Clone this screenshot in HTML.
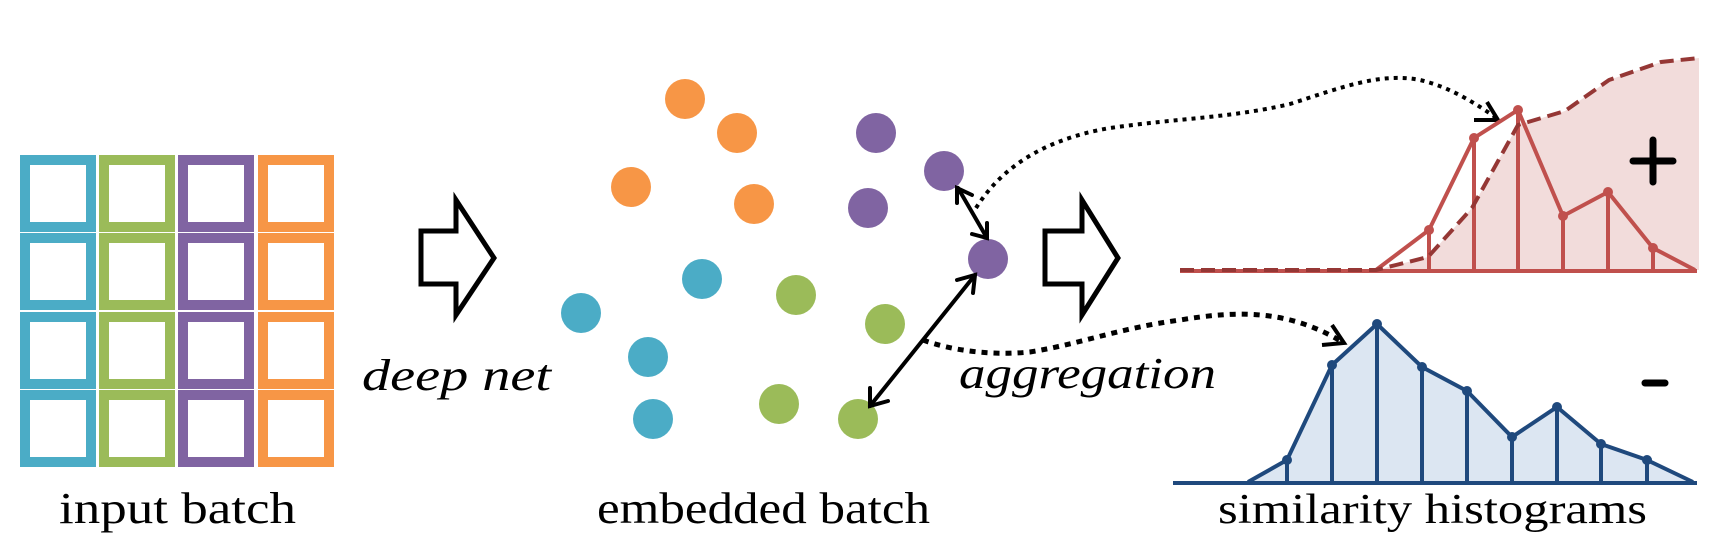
<!DOCTYPE html>
<html><head><meta charset="utf-8"><style>
html,body{margin:0;padding:0;background:#fff;}
svg{display:block;}
text{font-family:"Liberation Serif",serif;fill:#000;}
</style></head><body>
<svg width="1728" height="542" viewBox="0 0 1728 542" xmlns="http://www.w3.org/2000/svg">
<!-- grid -->
<g fill="none" stroke-width="10">
<g stroke="#4bacc6"><rect x="25" y="160" width="66" height="67"/><rect x="25" y="238" width="66" height="67"/><rect x="25" y="317" width="66" height="67"/><rect x="25" y="395" width="66" height="67"/></g>
<g stroke="#9bbb59"><rect x="104" y="160" width="66" height="67"/><rect x="104" y="238" width="66" height="67"/><rect x="104" y="317" width="66" height="67"/><rect x="104" y="395" width="66" height="67"/></g>
<g stroke="#8064a2"><rect x="183" y="160" width="66" height="67"/><rect x="183" y="238" width="66" height="67"/><rect x="183" y="317" width="66" height="67"/><rect x="183" y="395" width="66" height="67"/></g>
<g stroke="#f79646"><rect x="263" y="160" width="66" height="67"/><rect x="263" y="238" width="66" height="67"/><rect x="263" y="317" width="66" height="67"/><rect x="263" y="395" width="66" height="67"/></g>
</g>
<text x="59" y="523" font-size="44" textLength="237" lengthAdjust="spacingAndGlyphs">input batch</text>
<!-- block arrows -->
<polygon points="421,231 456,231 456,200 494,258 456,315 456,284 421,284" fill="#fff" stroke="#000" stroke-width="5"/>
<polygon points="1045,231 1082,231 1082,200 1118,258 1082,315 1082,284 1045,284" fill="#fff" stroke="#000" stroke-width="5"/>
<text x="362" y="390" font-size="44" font-style="italic" textLength="189" lengthAdjust="spacingAndGlyphs">deep net</text>
<!-- circles -->
<g>
<circle cx="685" cy="99" r="20" fill="#f79646"/><circle cx="737" cy="133" r="20" fill="#f79646"/><circle cx="631" cy="187" r="20" fill="#f79646"/><circle cx="754" cy="204" r="20" fill="#f79646"/>
<circle cx="876" cy="133" r="20" fill="#8064a2"/><circle cx="944" cy="171" r="20" fill="#8064a2"/><circle cx="868" cy="208" r="20" fill="#8064a2"/><circle cx="988" cy="259" r="20" fill="#8064a2"/>
<circle cx="702" cy="279" r="20" fill="#4bacc6"/><circle cx="581" cy="313" r="20" fill="#4bacc6"/><circle cx="648" cy="357" r="20" fill="#4bacc6"/><circle cx="653" cy="419" r="20" fill="#4bacc6"/>
<circle cx="796" cy="295" r="20" fill="#9bbb59"/><circle cx="885" cy="324" r="20" fill="#9bbb59"/><circle cx="779" cy="404" r="20" fill="#9bbb59"/><circle cx="858" cy="419" r="20" fill="#9bbb59"/>
</g>
<!-- double arrows -->
<g stroke="#000" stroke-width="4" fill="none" stroke-linecap="round">
<line x1="958" y1="188" x2="987" y2="238"/>
<polyline points="957,203 957,188 972,195"/>
<polyline points="972,234 987,238 987,223"/>
<line x1="975" y1="275" x2="870" y2="406"/>
<polyline points="957,280 975,275 973,293"/>
<polyline points="870,388 870,406 888,401"/>
</g>
<!-- dotted connectors -->
<path d="M976,208 C1000,170 1040,140 1110,128 C1180,118 1230,118 1290,104 C1340,88 1380,72 1420,80 C1450,87 1475,103 1498,119" fill="none" stroke="#000" stroke-width="4" stroke-dasharray="4,5"/>
<polyline points="1474,120 1498,120 1487,102" fill="none" stroke="#000" stroke-width="4"/>
<path d="M923,340 C950,350 990,356 1030,352 C1080,344 1120,328 1180,320 C1240,310 1290,310 1344,343" fill="none" stroke="#000" stroke-width="5" stroke-dasharray="6,6"/>
<polyline points="1322,345 1344,343 1332,325" fill="none" stroke="#000" stroke-width="4"/>
<text x="959" y="388" font-size="44" font-style="italic" textLength="257" lengthAdjust="spacingAndGlyphs">aggregation</text>
<text x="597" y="523" font-size="44" textLength="333" lengthAdjust="spacingAndGlyphs">embedded batch</text>
<!-- positive histogram -->
<path d="M1376,270 L1428,257 L1472,208 L1518,125 L1565,111 L1609,80 L1661,62 L1699,58 L1699,270 Z" fill="#f2dcdb"/>
<line x1="1180" y1="271" x2="1697" y2="271" stroke="#c0504d" stroke-width="4"/>
<g stroke="#c0504d" stroke-width="4" fill="none">
<polyline points="1376,270 1429,230 1474,138 1518,110 1563,216 1608,192 1653,248 1695,270"/>
<line x1="1429" y1="230" x2="1429" y2="270"/><line x1="1474" y1="138" x2="1474" y2="270"/><line x1="1518" y1="110" x2="1518" y2="270"/><line x1="1563" y1="216" x2="1563" y2="270"/><line x1="1608" y1="192" x2="1608" y2="270"/><line x1="1653" y1="248" x2="1653" y2="270"/>
</g>
<g fill="#c0504d"><circle cx="1429" cy="230" r="5"/><circle cx="1474" cy="138" r="5"/><circle cx="1518" cy="110" r="5"/><circle cx="1563" cy="216" r="5"/><circle cx="1608" cy="192" r="5"/><circle cx="1653" cy="248" r="5"/></g>
<polyline points="1180,270 1376,270 1428,257 1472,208 1518,125 1565,111 1609,80 1661,62 1699,58" fill="none" stroke="#953735" stroke-width="4" stroke-dasharray="14,7"/>
<g stroke="#000" stroke-width="7" stroke-linecap="round"><line x1="1633" y1="161" x2="1673" y2="161"/><line x1="1653" y1="140" x2="1653" y2="182"/><line x1="1645" y1="383" x2="1665" y2="383"/></g>
<!-- negative histogram -->
<path d="M1248,482 L1287,460 L1332,365 L1377,324 L1422,367 L1467,391 L1512,437 L1557,407 L1601,444 L1647,460 L1693,482 Z" fill="#dce6f2"/>
<g stroke="#1f497d" stroke-width="4" fill="none">
<line x1="1173" y1="483" x2="1697" y2="483"/>
<polyline points="1248,482 1287,460 1332,365 1377,324 1422,367 1467,391 1512,437 1557,407 1601,444 1647,460 1693,482"/>
<line x1="1287" y1="460" x2="1287" y2="482"/><line x1="1332" y1="365" x2="1332" y2="482"/><line x1="1377" y1="324" x2="1377" y2="482"/><line x1="1422" y1="367" x2="1422" y2="482"/><line x1="1467" y1="391" x2="1467" y2="482"/><line x1="1512" y1="437" x2="1512" y2="482"/><line x1="1557" y1="407" x2="1557" y2="482"/><line x1="1601" y1="444" x2="1601" y2="482"/><line x1="1647" y1="460" x2="1647" y2="482"/>
</g>
<g fill="#1f497d"><circle cx="1287" cy="460" r="5"/><circle cx="1332" cy="365" r="5"/><circle cx="1377" cy="324" r="5"/><circle cx="1422" cy="367" r="5"/><circle cx="1467" cy="391" r="5"/><circle cx="1512" cy="437" r="5"/><circle cx="1557" cy="407" r="5"/><circle cx="1601" cy="444" r="5"/><circle cx="1647" cy="460" r="5"/></g>
<text x="1218" y="523" font-size="42" textLength="429" lengthAdjust="spacingAndGlyphs">similarity histograms</text>
</svg>
</body></html>
